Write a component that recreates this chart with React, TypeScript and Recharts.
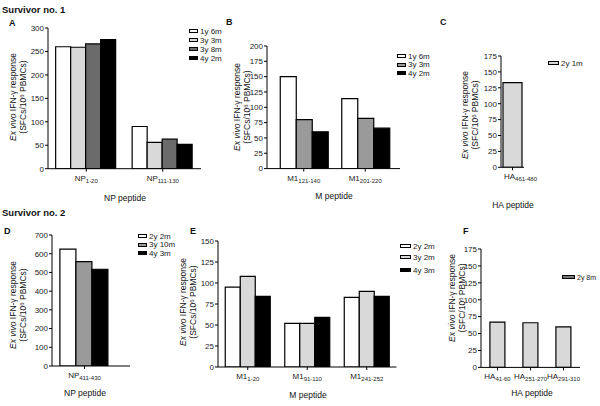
import React from "react";
import { BarChart, Bar, XAxis, YAxis } from "recharts";

// ---------- Data ----------
const aCats = ["NP 1-20", "NP 111-130"];
const a1y6m = [260, 90];
const a3y3m = [259, 56];
const a3y8m = [266, 63];
const a4y2m = [275, 52];

const bCats = ["M1 121-140", "M1 201-220"];
const b1y6m = [150, 114];
const b3y3m = [80, 82];
const b4y2m = [60, 66];

const cCats = ["HA 461-480"];
const c2y1m = [133];

const dCats = ["NP 411-430"];
const d2y2m = [624];
const d3y10m = [558];
const d4y3m = [517];

const eCats = ["M1 1-20", "M1 91-110", "M1 241-252"];
const e2y2m = [95, 52, 83];
const e3y2m = [108, 52, 90];
const e4y3m = [84, 59, 84];

const fCats = ["HA 41-60", "HA 251-270", "HA 291-310"];
const f2y8m = [67, 66, 60];

const aTicks = [0, 50, 100, 150, 200, 250, 300];
const bTicks = [0, 25, 50, 75, 100, 125, 150, 175, 200];
const cTicks = [0, 25, 50, 75, 100, 125, 150, 175];
const dTicks = [0, 100, 200, 300, 400, 500, 600, 700];
const eTicks = [0, 25, 50, 75, 100, 125, 150];
const fTicks = [0, 25, 50, 75, 100, 125, 150, 175];

const WHITE = "#ffffff";
const LIGHT = "#d9d9d9";
const MID = "#9a9a9a";
const DARK = "#6b6b6b";
const BLACK = "#000000";

type Series = { key: string; label: string; fill: string; legendFill?: string; values: number[] };

const aSeries: Series[] = [
  { key: "s1", label: "1y 6m", fill: WHITE, values: a1y6m },
  { key: "s2", label: "3y 3m", fill: LIGHT, values: a3y3m },
  { key: "s3", label: "3y 8m", fill: DARK, values: a3y8m },
  { key: "s4", label: "4y 2m", fill: BLACK, values: a4y2m },
];
const bSeries: Series[] = [
  { key: "s1", label: "1y 6m", fill: WHITE, values: b1y6m },
  { key: "s2", label: "3y 3m", fill: MID, values: b3y3m },
  { key: "s3", label: "4y 2m", fill: BLACK, values: b4y2m },
];
const cSeries: Series[] = [{ key: "s1", label: "2y 1m", fill: LIGHT, values: c2y1m }];
const dSeries: Series[] = [
  { key: "s1", label: "2y 2m", fill: WHITE, values: d2y2m },
  { key: "s2", label: "3y 10m", fill: MID, values: d3y10m },
  { key: "s3", label: "4y 3m", fill: BLACK, values: d4y3m },
];
const eSeries: Series[] = [
  { key: "s1", label: "2y 2m", fill: WHITE, values: e2y2m },
  { key: "s2", label: "3y 2m", fill: LIGHT, values: e3y2m },
  { key: "s3", label: "4y 3m", fill: BLACK, values: e4y3m },
];
const fSeries: Series[] = [
  { key: "s1", label: "2y 8m", fill: LIGHT, legendFill: "#777777", values: f2y8m },
];

function buildRows(cats: string[], series: Series[]) {
  return cats.map((name, i) => {
    const row: Record<string, any> = { name };
    series.forEach((s) => (row[s.key] = s.values[i]));
    return row;
  });
}

const FONT = '"Liberation Sans", Arial, sans-serif';

function makeTick(dx: number) {
  return function PeptideTick(props: any) {
    const { x, y, payload } = props;
    const parts = String(payload.value).split(" ");
    return (
      <text x={x + dx} y={y + 7} textAnchor="middle" fontSize={8} fill="#222" fontFamily={FONT}>
        {parts[0]}
        <tspan fontSize={6} dy={2}>
          {parts[1]}
        </tspan>
      </text>
    );
  };
}

type PanelProps = {
  axisX: number;
  plotTop: number;
  plotBottom: number;
  plotRight: number;
  cats: string[];
  series: Series[];
  yMax: number;
  yTicks: number[];
  padL?: number;
  padR?: number;
  gap: string;
  tickDx?: number;
  extraRight?: number;
};

function Panel(p: PanelProps) {
  const yW = 32;
  const mTop = 8;
  const xH = 24;
  const mRight = 6 + (p.extraRight || 0);
  const width = p.plotRight - p.axisX + yW + mRight;
  const height = p.plotBottom - p.plotTop + mTop + xH;
  const data = buildRows(p.cats, p.series);
  const Tick = makeTick(p.tickDx || 0);
  return (
    <div style={{ position: "absolute", left: p.axisX - yW, top: p.plotTop - mTop }}>
      <BarChart
        width={width}
        height={height}
        data={data}
        margin={{ top: mTop, right: mRight, bottom: 0, left: 0 }}
        barGap={0}
        barCategoryGap={p.gap}
      >
        <XAxis
          dataKey="name"
          height={xH}
          interval={0}
          padding={{ left: p.padL || 0, right: p.padR || 0 }}
          tick={<Tick />}
          tickSize={3}
          axisLine={{ stroke: "#000", strokeWidth: 1 }}
          tickLine={{ stroke: "#000", strokeWidth: 1 }}
        />
        <YAxis
          width={yW}
          type="number"
          domain={[0, p.yMax]}
          ticks={p.yTicks}
          interval={0}
          allowDataOverflow
          tickSize={3}
          tickMargin={1}
          tick={{ fontSize: 8, fill: "#222", fontFamily: FONT }}
          axisLine={{ stroke: "#000", strokeWidth: 1 }}
          tickLine={{ stroke: "#000", strokeWidth: 1 }}
        />
        {p.series.map((s) => (
          <Bar
            key={s.key}
            dataKey={s.key}
            name={s.label}
            fill={s.fill}
            stroke="#000"
            strokeWidth={1.2}
            isAnimationActive={false}
          />
        ))}
      </BarChart>
    </div>
  );
}

function Legend({
  series,
  left,
  rows,
  boxW = 9,
  fontSize = 8,
}: {
  series: Series[];
  left: number;
  rows: number[];
  boxW?: number;
  fontSize?: number;
}) {
  return (
    <>
      {series.map((s, i) => (
        <div
          key={s.key}
          style={{
            position: "absolute",
            left,
            top: rows[i] - 4.5,
            height: 9,
            display: "flex",
            alignItems: "center",
            whiteSpace: "nowrap",
            fontSize,
            lineHeight: "9px",
            color: "#222",
          }}
        >
          <span
            style={{
              display: "inline-block",
              width: boxW,
              height: 4,
              boxSizing: "border-box",
              border: "1px solid #000",
              background: s.legendFill || s.fill,
              marginRight: 2,
            }}
          />
          <span>{s.label}</span>
        </div>
      ))}
    </>
  );
}

function Txt({
  x,
  y,
  children,
  size = 8.5,
  bold = false,
  center = false,
}: {
  x: number;
  y: number;
  children: React.ReactNode;
  size?: number;
  bold?: boolean;
  center?: boolean;
}) {
  const lh = size + 2;
  return (
    <div
      style={{
        position: "absolute",
        left: x,
        top: y - lh / 2,
        lineHeight: lh + "px",
        fontSize: size,
        fontWeight: bold ? "bold" : "normal",
        whiteSpace: "nowrap",
        transform: center ? "translateX(-50%)" : undefined,
        color: "#111",
      }}
    >
      {children}
    </div>
  );
}

function YLabel({ cx, cy, unit }: { cx: number; cy: number; unit: string }) {
  return (
    <div
      style={{
        position: "absolute",
        left: cx,
        top: cy,
        width: 150,
        transform: "translate(-50%, -50%) rotate(-90deg)",
        textAlign: "center",
        fontSize: 8.5,
        lineHeight: "10px",
        color: "#111",
        whiteSpace: "nowrap",
      }}
    >
      <div>
        <i>Ex vivo</i> IFN-γ response
      </div>
      <div>
        ({unit}/10<sup style={{ fontSize: 6, verticalAlign: "2px", lineHeight: 0 }}>6</sup> PBMCs)
      </div>
    </div>
  );
}

export default function App() {
  return (
    <div
      style={{
        position: "absolute",
        left: 0,
        top: 0,
        width: 600,
        height: 406,
        background: "#fff",
        fontFamily: FONT,
        overflow: "hidden",
      }}
    >
      {/* Row 1 */}
      <Txt x={2} y={10} size={9.5} bold>
        Survivor no. 1
      </Txt>
      <Txt x={9} y={23.5} size={9} bold>
        A
      </Txt>
      <Txt x={226} y={22} size={9} bold>
        B
      </Txt>
      <Txt x={440} y={22} size={9} bold>
        C
      </Txt>

      <Panel axisX={48} plotTop={28.3} plotBottom={169} plotRight={201} cats={aCats} series={aSeries} yMax={300} yTicks={aTicks} gap="10%" />
      <YLabel cx={18} cy={97} unit="SFCs" />
      <Txt x={125} y={198} center>
        NP peptide
      </Txt>
      <Legend series={aSeries} left={189} rows={[31, 40, 49, 58]} />

      <Panel axisX={267} plotTop={45.7} plotBottom={168.3} plotRight={400} cats={bCats} series={bSeries} yMax={200} yTicks={bTicks} padL={6} padR={4} gap="11.8%" />
      <YLabel cx={242} cy={107} unit="SFCs" />
      <Txt x={334} y={196} center>
        M peptide
      </Txt>
      <Legend series={bSeries} left={397} rows={[56, 64.5, 73]} />

      <Panel axisX={501} plotTop={56} plotBottom={167.3} plotRight={524} cats={cCats} series={cSeries} yMax={175} yTicks={cTicks} gap="8.7%" tickDx={8} extraRight={30} />
      <YLabel cx={470} cy={115} unit="SFC" />
      <Txt x={513} y={205} center>
        HA peptide
      </Txt>
      <Legend series={cSeries} left={548} rows={[63]} boxW={11} />

      {/* Row 2 */}
      <Txt x={2} y={213} size={9.5} bold>
        Survivor no. 2
      </Txt>
      <Txt x={4} y={231} size={9} bold>
        D
      </Txt>
      <Txt x={190} y={231} size={9} bold>
        E
      </Txt>
      <Txt x={463} y={231} size={9} bold>
        F
      </Txt>

      <Panel axisX={52} plotTop={235} plotBottom={366} plotRight={130} cats={dCats} series={dSeries} yMax={700} yTicks={dTicks} padL={2.5} padR={15.5} gap="9%" />
      <YLabel cx={18} cy={305} unit="SFCs" />
      <Txt x={85} y={393} center>
        NP peptide
      </Txt>
      <Legend series={dSeries} left={138} rows={[236, 244.5, 253]} />

      <Panel axisX={218} plotTop={240.7} plotBottom={366.7} plotRight={396.5} cats={eCats} series={eSeries} yMax={150} yTicks={eTicks} gap="12.2%" />
      <YLabel cx={188} cy={302} unit="SFCs" />
      <Txt x={308} y={395} center>
        M peptide
      </Txt>
      <Legend series={eSeries} left={400} rows={[246, 257, 270]} boxW={11} />

      <Panel axisX={481} plotTop={249.3} plotBottom={367.7} plotRight={580} cats={fCats} series={fSeries} yMax={175} yTicks={fTicks} gap="27%" />
      <YLabel cx={457} cy={298} unit="SFC" />
      <Txt x={532} y={393} center>
        HA peptide
      </Txt>
      <Legend series={fSeries} left={562} rows={[277]} boxW={13} fontSize={7} />
    </div>
  );
}
